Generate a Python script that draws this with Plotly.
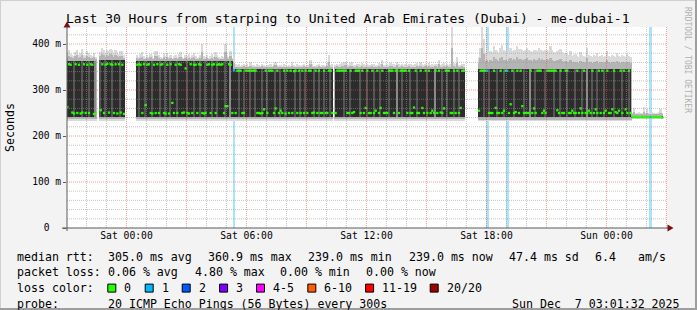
import plotly.graph_objects as go
from datetime import datetime, timedelta

N = None
# ---------------- data ----------------
FIRST_SAMPLE = datetime(2025, 12, 5, 21, 5)   # end of first 5-minute sample
STEP = timedelta(minutes=5)
X_START = datetime(2025, 12, 5, 21, 1, 32)
X_END = datetime(2025, 12, 7, 3, 1, 32)

# median rtt (ms) per 5-minute sample, one row per hour (Fri 21:00 ... Sun 02:00)
median_rows = [
    [263, 356, 355, 251, 249, 356, 250, 355, 249, 251, 356, 250],
    [355, 250, 356, 355, 248, 248, N, N, 256, 356, 250, 355],
    [357, 251, 356, 355, 250, 356, 249, 356, 251, 355, 248, N],
    [N, N, N, N, N, N, 355, 356, 355, 250, 356, 267],
    [355, 356, 250, 249, 355, 250, 356, 250, 355, 356, 250, 249],
    [355, 249, 356, 272, 250, 355, 250, 356, 355, 250, 251, 347],
    [250, 249, 356, 250, 355, 355, 250, 356, 355, 250, 249, 250],
    [355, 356, 250, 355, 356, 250, 355, 356, 355, 356, 250, 265],
    [265, 356, 355, 250, 343, 250, 342, 342, 342, 250, 250, 342],
    [342, 342, 342, 342, 342, 342, 250, 250, 249, 250, 258, 342],
    [250, 342, 342, 342, 250, 260, 342, 250, 255, 250, 342, 249],
    [342, 250, 342, 250, 341, 342, 250, 342, 250, 342, 250, 342],
    [250, 342, 342, 250, 251, 342, 250, 342, 250, 250, 342, 250],
    [250, 342, 342, 250, N, 250, 342, 342, 342, 342, 342, 342],
    [250, 250, 342, 250, 252, 342, 342, 342, 250, 342, 250, 261],
    [342, 250, 250, 342, 250, 255, 342, 250, 261, 342, 250, 250],
    [250, 342, 342, 342, 250, 342, 342, 250, 342, 342, 342, 342],
    [250, 342, 250, 250, 262, 342, 250, 250, 342, 261, 250, 342],
    [250, 342, 250, 255, 250, 342, 250, 342, 251, 250, 260, 342],
    [342, 342, 250, 250, 342, 250, 342, 250, 261, 342, 342, N],
    [N, N, N, N, N, N, N, 255, 342, 342, 342, 342],
    [342, 250, 250, 250, 342, 261, 250, 250, 342, 250, 255, 342],
    [342, 250, 269, 342, 250, 252, 342, 250, 342, 265, 250, 250],
    [250, 250, 342, 250, 260, 250, 342, 342, 342, 250, 255, 250],
    [342, 342, 342, 342, 342, 342, 256, 250, 342, 250, 250, 342],
    [342, 250, 250, 255, 250, 250, 342, 250, 260, 250, 342, 250],
    [250, 255, 250, 342, 250, 258, 250, 342, 250, 342, 250, 255],
    [342, 250, 250, 258, 342, 252, 250, 255, 342, 250, 342, 258],
    [250, 342, 250, 242, 241, 242, 241, 241, 241, 242, 241, 241],
    [241, 241, 241, 241, 241, 242, 241, 241, 241, 240, N, N],
]
median_ms = [v for row in median_rows for v in row]

# slowest ping (ms) per 5-minute sample, same layout
max_rows = [
    [380, 386, 378, 376, 374, 382, 387, 376, 380, 390, 377, 375],
    [384, 380, 376, 374, 380, 372, N, N, 383, 392, 386, 380],
    [386, 384, 390, 388, 380, 388, 382, 379, 384, 385, 376, N],
    [N, N, N, N, N, N, 376, 372, 378, 382, 374, 370],
    [376, 372, 379, 374, 370, 385, 384, 376, 372, 370, 380, 374],
    [380, 372, 376, 370, 374, 377, 372, 378, 382, 372, 370, 376],
    [374, 378, 372, 376, 380, 374, 370, 372, 376, 401, 374, 372],
    [376, 370, 374, 378, 372, 382, 376, 372, 370, 374, 372, 401],
    [376, 372, 385, 370, 372, 356, 354, 356, 352, 355, 357, 354],
    [356, 353, 360, 355, 354, 352, 356, 355, 353, 357, 354, 352],
    [355, 354, 356, 352, 357, 362, 354, 352, 355, 353, 356, 354],
    [352, 355, 353, 360, 354, 352, 356, 355, 353, 354, 357, 352],
    [355, 354, 365, 356, 353, 352, 355, 357, 353, 354, 355, 352],
    [358, 376, 354, 356, N, 354, 357, 355, 356, 358, 360, 362],
    [356, 355, 358, 360, 355, 354, 357, 356, 355, 358, 356, 354],
    [356, 355, 354, 357, 356, 355, 354, 358, 356, 365, 355, 354],
    [356, 355, 358, 357, 356, 355, 362, 356, 354, 357, 355, 356],
    [354, 357, 356, 355, 354, 356, 358, 355, 360, 356, 354, 357],
    [355, 358, 354, 356, 355, 357, 356, 365, 354, 356, 358, 355],
    [357, 355, 356, 436, 358, 356, 372, 355, 354, 357, 356, N],
    [N, N, N, N, N, N, N, 372, 392, 436, 410, 380],
    [386, 378, 384, 382, 396, 388, 384, 380, 392, 398, 386, 384],
    [382, 388, 392, 384, 388, 386, 396, 390, 390, 386, 384, 388],
    [392, 386, 384, 382, 388, 386, 384, 392, 386, 388, 384, 386],
    [388, 384, 395, 386, 382, 380, 384, 386, 390, 382, 378, 380],
    [378, 376, 384, 374, 376, 378, 374, 372, 382, 376, 374, 372],
    [392, 376, 374, 372, 376, 374, 380, 372, 374, 376, 372, 374],
    [384, 374, 372, 376, 374, 372, 380, 374, 372, 376, 374, 372],
    [378, 374, 372, 250, 260, 251, 250, 252, 250, 251, 262, 250],
    [258, 251, 250, 252, 250, 251, 250, 252, 258, 250, N, N],
]
max_ms = [v for row in max_rows for v in row]

# samples with 1/20 packet loss
loss_idx = [100, 252, 264, 350]

# smoke regimes: sample ranges with their lower spread and dense core (ms)
reg_first = [0, 20, 42, 100, 161, 247, 301, 339]
reg_last = [17, 34, 99, 159, 238, 300, 338, 357]
reg_smoke_lo = [233, 233, 233, 233, 233, 232, 232, 236]
reg_core_lo = [241, 241, 241, 241, 241, 241, 241, 239]
reg_core_hi = [364, 365, 363, 346, 346, 346, 346, 244]

# samples whose inner ping spread is less dense (lighter smoke)
stripe_idx = [4, 9, 13, 20, 23, 27, 32, 43, 47, 51, 56, 59, 62, 66, 72, 76, 80, 83, 87, 90, 95,
              103, 106, 110, 113, 117, 120, 125, 128, 131, 137, 140, 143, 148, 151, 154, 158,
              166, 170, 176, 180, 184, 188, 193, 201, 206, 210, 216, 225, 228, 232, 235,
              250, 253, 258, 262, 268, 274, 281, 287, 292, 296, 300, 305, 309, 315, 318, 322,
              328, 333, 337]
pale_stripe_idx = [17, 98, 198, 221, 312, 278]

x_tick_times = [datetime(2025, 12, 6, 0), datetime(2025, 12, 6, 6), datetime(2025, 12, 6, 12),
                datetime(2025, 12, 6, 18), datetime(2025, 12, 7, 0)]
x_tick_text = ["Sat 00:00", "Sat 06:00", "Sat 12:00", "Sat 18:00", "Sun 00:00"]
y_tick_vals = [0, 100, 200, 300, 400]
y_tick_text = ["0\u00a0\u00a0", "100 m", "200 m", "300 m", "400 m"]

rtt_stats = ["305.0 ms avg", "360.9 ms max", "239.0 ms min", "239.0 ms now", "47.4 ms sd", "6.4", "am/s"]
loss_stats = ["0.06 % avg", "4.80 % max", "0.00 % min", "0.00 % now"]
loss_labels = ["0", "1", "2", "3", "4-5", "6-10", "11-19", "20/20"]
loss_colors = ["#26ff00", "#00b8ff", "#0059ff", "#7e00ff", "#ff00ff", "#ff5e00", "#ff0000", "#a00000"]
probe_text = "20 ICMP Echo Pings (56 Bytes) every 300s"
stamp_text = "Sun Dec\u00a0\u00a07 03:01:32 2025"
title_text = "Last 30 Hours from starping to United Arab Emirates (Dubai) - me-dubai-1"

# ---------------- layout geometry ----------------
W, H = 697, 310
L, R, T, B = 67, 30, 27, 82
PW, PH = W - L - R, H - T - B
Y_MAX = 437
MONO = "DejaVu Sans Mono"


def px(x):
    return (x - L) / PW


def py(y):
    return (H - B - y) / PH


def sample_center(i):
    return FIRST_SAMPLE + STEP * i - STEP / 2


STEP_MS = STEP.total_seconds() * 1000


def regime_of(i):
    for k, (a, b) in enumerate(zip(reg_first, reg_last)):
        if a <= i <= b:
            return k
    return None


fig = go.Figure()


def add_bars(xs, lo, hi, widths, color):
    fig.add_trace(go.Bar(x=xs, base=lo, y=[h - l for h, l in zip(hi, lo)], width=widths,
                         marker=dict(color=color, line=dict(width=0)),
                         hoverinfo="skip", showlegend=False))


# loss background bars
add_bars([sample_center(i) for i in loss_idx], [0] * len(loss_idx), [Y_MAX] * len(loss_idx),
         [STEP_MS * 1.5] * len(loss_idx), "#ade3f7")

# smoke: per-sample outer spread and upper half-spread
idx = [i for i, v in enumerate(max_ms) if v is not None and regime_of(i) is not None]
xs = [sample_center(i) for i in idx]
lo = [reg_smoke_lo[regime_of(i)] for i in idx]
hi = [max_ms[i] for i in idx]
core_hi = [reg_core_hi[regime_of(i)] for i in idx]
add_bars(xs, lo, hi, [STEP_MS * 1.02] * len(idx), "#dadada")
add_bars(xs, [v + 3 for v in lo], [(a + b) / 2 for a, b in zip(hi, core_hi)],
         [STEP_MS * 1.02] * len(idx), "#b4b4b4")

# dense core per regime
reg_x, reg_w = [], []
for a, b in zip(reg_first, reg_last):
    s = FIRST_SAMPLE + STEP * a - STEP
    e = FIRST_SAMPLE + STEP * b
    reg_x.append(s + (e - s) / 2)
    reg_w.append((e - s).total_seconds() * 1000)
add_bars(reg_x, reg_core_lo, reg_core_hi, reg_w, "#2c2c2c")

st_k = [regime_of(i) for i in stripe_idx]
add_bars([sample_center(i) for i in stripe_idx], [reg_core_lo[k] for k in st_k],
         [reg_core_hi[k] for k in st_k], [STEP_MS * 0.8] * len(stripe_idx), "#555555")
pk = [regime_of(i) for i in pale_stripe_idx]
add_bars([sample_center(i) for i in pale_stripe_idx], [reg_core_lo[k] for k in pk],
         [reg_core_hi[k] for k in pk], [STEP_MS] * len(pale_stripe_idx), "#8a8a8a")

# median rtt markers coloured by loss
mx, my, mc = [], [], []
for i, v in enumerate(median_ms):
    if v is None:
        continue
    mx.append(sample_center(i))
    my.append(v)
    mc.append(loss_colors[1] if i in loss_idx else loss_colors[0])
fig.add_trace(go.Scatter(x=mx, y=my, mode="markers",
                         marker=dict(symbol="square", size=2.3, color=mc, line=dict(width=0)),
                         hoverinfo="skip", showlegend=False))

# ---------------- grid (drawn over smoke like rrdtool) ----------------
shapes = []
MINOR = "rgba(150,150,150,0.55)"
MAJOR = "rgba(225,80,80,0.55)"
t = datetime(2025, 12, 5, 22)
while t <= X_END:
    major = t.hour % 3 == 0
    shapes.append(dict(type="line", xref="x", yref="paper", x0=t, x1=t, y0=0, y1=1,
                       line=dict(color=MAJOR if major else MINOR, width=1, dash="1px,1px"),
                       layer="above"))
    t += timedelta(hours=1)
for v in range(20, 440, 20):
    major = v % 100 == 0
    shapes.append(dict(type="line", xref="paper", yref="y", x0=0, x1=1, y0=v, y1=v,
                       line=dict(color=MAJOR if major else MINOR, width=1, dash="1px,1px"),
                       layer="above"))

AX = "#5a5a5a"
ARROW = "#7a1010"
shapes.append(dict(type="line", xref="paper", yref="paper", x0=px(62), x1=px(670), y0=0, y1=0,
                   line=dict(color=AX, width=1), layer="above"))
shapes.append(dict(type="line", xref="paper", yref="paper", x0=0, x1=0, y0=py(231), y1=py(25),
                   line=dict(color=AX, width=1), layer="above"))
shapes.append(dict(type="path", xref="paper", yref="paper",
                   path=f"M {px(673.5)} {py(228)} L {px(667.5)} {py(224.5)} L {px(667.5)} {py(231.5)} Z",
                   fillcolor=ARROW, line=dict(width=0), layer="above"))
shapes.append(dict(type="path", xref="paper", yref="paper",
                   path=f"M {px(67)} {py(21.5)} L {px(63.5)} {py(27.5)} L {px(70.5)} {py(27.5)} Z",
                   fillcolor=ARROW, line=dict(width=0), layer="above"))

# image frame
shapes.append(dict(type="line", xref="paper", yref="paper", x0=px(0), x1=px(697), y0=py(0.5), y1=py(0.5),
                   line=dict(color="#d0d0d0", width=1)))
shapes.append(dict(type="line", xref="paper", yref="paper", x0=px(0.5), x1=px(0.5), y0=py(0), y1=py(310),
                   line=dict(color="#d0d0d0", width=1)))
shapes.append(dict(type="line", xref="paper", yref="paper", x0=px(696), x1=px(696), y0=py(0), y1=py(310),
                   line=dict(color="#9e9e9e", width=2)))
shapes.append(dict(type="line", xref="paper", yref="paper", x0=px(0), x1=px(697), y0=py(309), y1=py(309),
                   line=dict(color="#9e9e9e", width=2)))

annotations = []


def text(x, y, s, size=11.6, anchor="left", color="#000000", angle=0, yanchor="middle"):
    annotations.append(dict(x=px(x), y=py(y), xref="paper", yref="paper", text=s, showarrow=False,
                            xanchor=anchor, yanchor=yanchor, textangle=angle, borderpad=0,
                            font=dict(family=MONO, size=size, color=color)))


text(348, 19, title_text, size=13, anchor="center")
text(10, 128, "Seconds", size=11.6, anchor="center", angle=-90)
text(688, 60, "RRDTOOL / TOBI OETIKER", size=8, anchor="center", color="#b0b0b0", angle=90)

ROW = [256.5, 272.3, 288.1, 303.9]
text(15.6, ROW[0], "median rtt:")
for xx, s in zip([106.9, 207.1, 307.3, 407.5, 507.7, 593.6, 636.8], rtt_stats):
    text(xx, ROW[0], s)
text(15.6, ROW[1], "packet loss:")
for xx, s in zip([106.9, 194.2, 279.3, 365.2], loss_stats):
    text(xx, ROW[1], s)
text(15.6, ROW[2], "loss color:")
box_x = [107.8, 145.2, 182.2, 219.6, 256.5, 307.8, 365.6, 430.2]
for bx, lab, col in zip(box_x, loss_labels, loss_colors):
    shapes.append(dict(type="rect", xref="paper", yref="paper", x0=px(bx), x1=px(bx + 8),
                       y0=py(ROW[2] - 4), y1=py(ROW[2] + 4), fillcolor=col,
                       line=dict(color="#000000", width=1)))
    text(bx + 15.6, ROW[2], lab)
text(15.6, ROW[3], "probe:")
text(106.9, ROW[3], probe_text)
text(681, ROW[3], stamp_text, anchor="right")

fig.update_layout(
    width=W, height=H, margin=dict(l=L, r=R, t=T, b=B, autoexpand=False),
    paper_bgcolor="#f3f3f3", plot_bgcolor="#ffffff",
    barmode="overlay", bargap=0, showlegend=False,
    shapes=shapes, annotations=annotations,
    xaxis=dict(type="date", range=[X_START, X_END], tickvals=x_tick_times, ticktext=x_tick_text,
               showgrid=False, zeroline=False, showline=False, ticks="",
               tickfont=dict(family=MONO, size=9.7, color="#000000"), fixedrange=True),
    yaxis=dict(range=[0, Y_MAX], tickvals=y_tick_vals, ticktext=y_tick_text,
               showgrid=False, zeroline=False, showline=False, ticks="outside", ticklen=3,
               tickcolor=AX, tickfont=dict(family=MONO, size=9.6, color="#000000"), fixedrange=True),
)

fig.write_html("out.html")
